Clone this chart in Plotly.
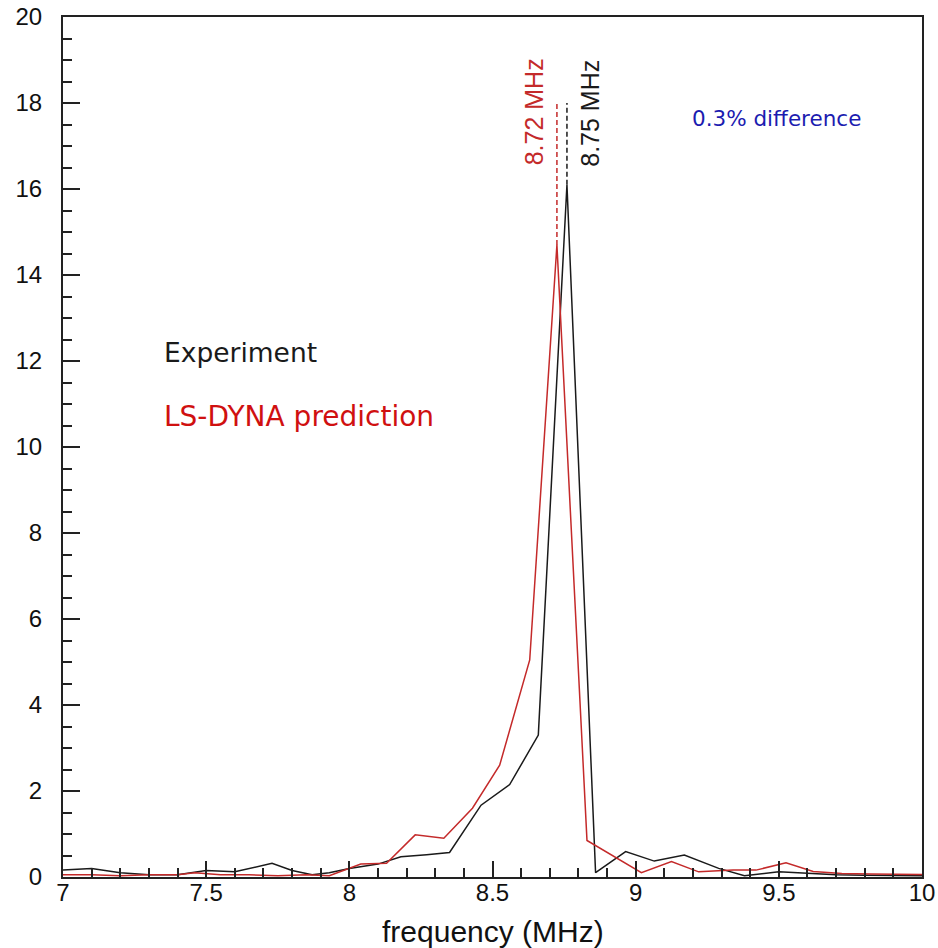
import plotly.graph_objects as go

# Experiment (black)
exp_freq = [7.0, 7.1, 7.2, 7.3, 7.4, 7.5, 7.6, 7.73, 7.8, 7.87, 7.93, 8.0, 8.1, 8.18, 8.27,
            8.35, 8.46, 8.56, 8.66, 8.76, 8.86, 8.965, 9.065, 9.17, 9.29, 9.38, 9.5, 9.6,
            9.7, 9.8, 9.9, 10.0]
exp_amp = [0.16, 0.2, 0.1, 0.05, 0.05, 0.15, 0.12, 0.32, 0.15, 0.05, 0.1, 0.2, 0.3, 0.47, 0.52,
           0.57, 1.67, 2.15, 3.3, 16.1, 0.1, 0.59, 0.37, 0.51, 0.2, 0.03, 0.12, 0.08,
           0.05, 0.04, 0.03, 0.03]

# LS-DYNA prediction (red)
sim_freq = [7.0, 7.1, 7.2, 7.3, 7.4, 7.46, 7.55, 7.65, 7.75, 7.85, 7.93, 8.04, 8.13, 8.23,
            8.33, 8.43, 8.525, 8.63, 8.725, 8.83, 9.02, 9.125, 9.22, 9.34, 9.42, 9.525,
            9.62, 9.72, 9.82, 9.92, 10.0]
sim_amp = [0.05, 0.05, 0.03, 0.05, 0.05, 0.1, 0.05, 0.05, 0.03, 0.05, 0.03, 0.3, 0.32, 0.98,
           0.9, 1.6, 2.6, 5.05, 14.7, 0.85, 0.1, 0.36, 0.12, 0.16, 0.16, 0.33,
           0.13, 0.08, 0.07, 0.06, 0.06]

# peak markers
peak_freqs = [8.725, 8.76]
peak_tops = [18.0, 18.0]
peak_labels = ["8.72 MHz", "8.75 MHz"]

RED = "#c42a2a"
BLACK = "#1a1a1a"
BLUE = "#1c1cb0"

fig = go.Figure()
fig.add_trace(go.Scatter(x=exp_freq, y=exp_amp, mode="lines",
                         line=dict(color=BLACK, width=1.5), showlegend=False))
fig.add_trace(go.Scatter(x=sim_freq, y=sim_amp, mode="lines",
                         line=dict(color=RED, width=1.5), showlegend=False))

# dashed peak lines
fig.add_trace(go.Scatter(x=[peak_freqs[0], peak_freqs[0]], y=[max(sim_amp), peak_tops[0]],
                         mode="lines", line=dict(color=RED, width=1.5, dash="5px,3px"),
                         showlegend=False))
fig.add_trace(go.Scatter(x=[peak_freqs[1], peak_freqs[1]], y=[max(exp_amp), peak_tops[1]],
                         mode="lines", line=dict(color=BLACK, width=1.5, dash="5px,3px"),
                         showlegend=False))

fig.add_annotation(x=8.644, y=17.8, text=peak_labels[0], textangle=-90, showarrow=False,
                   font=dict(family="Liberation Sans, Arial", size=25, color=RED))
fig.add_annotation(x=8.84, y=17.77, text=peak_labels[1], textangle=-90, showarrow=False,
                   font=dict(family="Liberation Sans, Arial", size=25, color=BLACK))

fig.add_annotation(x=7.345, y=12.19, text="Experiment", xanchor="left", showarrow=False,
                   font=dict(family="DejaVu Sans", size=26.5, color=BLACK))
fig.add_annotation(x=7.345, y=10.7, text="LS-DYNA prediction", xanchor="left", showarrow=False,
                   font=dict(family="DejaVu Sans", size=28, color="#d01010"))
fig.add_annotation(x=9.19, y=17.65, text="0.3% difference", xanchor="left", showarrow=False,
                   font=dict(family="DejaVu Sans", size=21.5, color=BLUE))

# x-axis title placed as a paper annotation
fig.add_annotation(x=0.5, xref="paper", y=-0.0628, yref="paper", yanchor="middle",
                   text="frequency (MHz)", showarrow=False,
                   font=dict(family="Liberation Sans, Arial", size=30, color="#111"))

fig.update_layout(
    width=938, height=948,
    margin=dict(l=63, r=16, t=17, b=71, autoexpand=False),
    paper_bgcolor="white", plot_bgcolor="white",
    font=dict(family="Liberation Sans, Arial", size=22, color="#111"),
)
fig.update_xaxes(
    range=[7, 10], dtick=0.5, tick0=7, showgrid=False, zeroline=False, automargin=False,
    showline=True, linecolor="#222", linewidth=2, mirror=True,
    ticks="inside", ticklen=16, tickwidth=1.5, tickcolor="#222",
    minor=dict(dtick=0.1, ticks="inside", ticklen=9, tickwidth=1.5, tickcolor="#222", showgrid=False),
    tickfont=dict(size=24), ticklabeloverflow="allow",
    ticklabelstandoff=-7,
)
fig.update_yaxes(
    range=[0, 20], dtick=2, showgrid=False, zeroline=False, automargin=False,
    showline=True, linecolor="#222", linewidth=2, mirror=True,
    ticks="inside", ticklen=17, tickwidth=1.5, tickcolor="#222",
    minor=dict(dtick=0.5, ticks="inside", ticklen=9, tickwidth=1.5, tickcolor="#222", showgrid=False),
    tickfont=dict(size=24), ticklabeloverflow="allow",
    ticklabelstandoff=14,
)

fig.write_html("out.html", config={"displayModeBar": False},
               post_script="document.body.style.margin='0';")
